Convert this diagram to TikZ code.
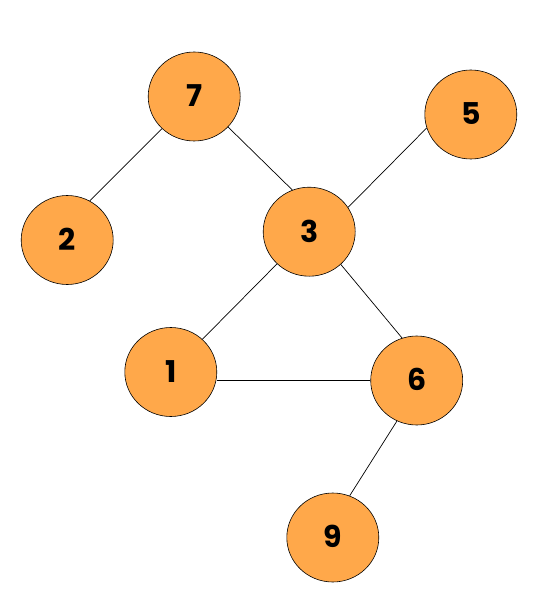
\documentclass[tikz,border=0pt]{standalone}
\usepackage{fontspec}
\setmainfont{Poppins}
\usetikzlibrary{shapes.geometric}
\definecolor{nodeorange}{HTML}{FFA84A}
\tikzset{
  vert/.style={ellipse, draw=black, line width=0.6pt, fill=nodeorange,
    minimum width=92pt, minimum height=89pt, inner sep=0pt,
    font=\fontsize{30}{30}\selectfont\bfseries},
  edge/.style={draw=black, line width=0.7pt}
}
\begin{document}
\begin{tikzpicture}[x=1pt,y=-1pt]
\useasboundingbox (0,0) rectangle (550,604);
\node[vert] (n7) at (194.2,96.5) {\raisebox{1.5pt}{7}};
\node[vert] (n2) at (67.2,240) {\raisebox{1.5pt}{2}};
\node[vert] (n3) at (309.2,231.7) {\raisebox{1.5pt}{3}};
\node[vert] (n5) at (470.8,114.5) {\raisebox{1.5pt}{5}};
\node[vert] (n1) at (170.8,372) {\raisebox{1.5pt}{1}};
\node[vert] (n6) at (416.7,380.5) {\raisebox{1.5pt}{6}};
\node[vert] (n9) at (332.8,537.5) {\raisebox{1.5pt}{9}};
\draw[edge] (n7.225) -- (n2.60);
\draw[edge] (n7.318) -- (n3.112);
\draw[edge] (n3.32) -- (n5.197);
\draw[edge] (n3.225) -- (n1.46);
\draw[edge] (n3.314) -- (n6.109);
\draw[edge] (n6.west) -- (n6.west -| n1.east);
\draw[edge] (n6.244) -- (n9.68);
\end{tikzpicture}
\end{document}
